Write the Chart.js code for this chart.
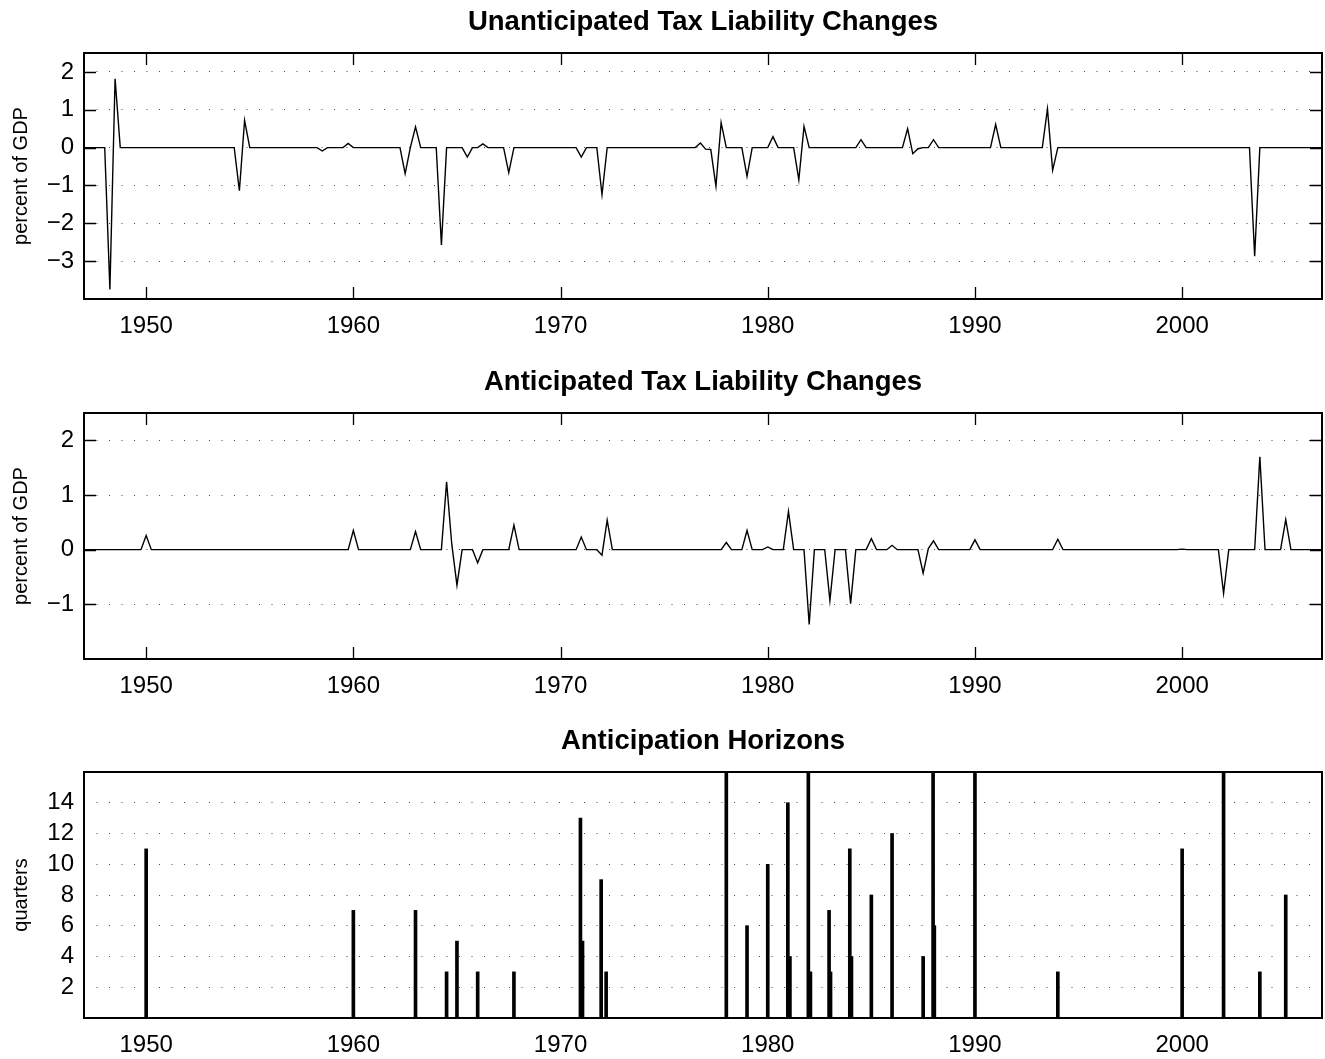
<!DOCTYPE html>
<html>
<head>
<meta charset="utf-8">
<title>Tax Liability Changes</title>
<script src="https://cdn.jsdelivr.net/npm/chart.js@4.4.1/dist/chart.umd.min.js"></script>
<style>
  html, body { margin:0; padding:0; background:#fff; }
  body { width:1325px; height:1059px; position:relative; overflow:hidden; }
  .panel { position:absolute; left:0; width:1325px; height:360px; }
</style>
</head>
<body>
<div class="panel" style="top:-7px"><canvas id="c1"></canvas></div>
<div class="panel" style="top:353px"><canvas id="c2"></canvas></div>
<div class="panel" style="top:712px"><canvas id="c3"></canvas></div>
<script>
'use strict';

/* ---- data (quarters as decimal years; only the quarters where the line bends) ---- */
const unantX = [1947.0, 1948.0, 1948.25, 1948.5, 1948.75,
  1954.25, 1954.5, 1954.75, 1955.0,
  1958.25, 1958.5, 1958.75, 1959.5, 1959.75, 1960.0,
  1962.25, 1962.5, 1962.75, 1963.0, 1963.25,
  1964.0, 1964.25, 1964.5,
  1965.25, 1965.5, 1965.75, 1966.0, 1966.25, 1966.5,
  1967.25, 1967.5, 1967.75,
  1970.75, 1971.0, 1971.25, 1971.75, 1972.0, 1972.25,
  1976.5, 1976.75, 1977.0, 1977.25, 1977.5, 1977.75, 1978.0,
  1978.75, 1979.0, 1979.25,
  1980.0, 1980.25, 1980.5,
  1981.25, 1981.5, 1981.75, 1982.0,
  1984.25, 1984.5, 1984.75,
  1986.5, 1986.75, 1987.0, 1987.25, 1987.5, 1987.75, 1988.0, 1988.25,
  1990.75, 1991.0, 1991.25,
  1993.25, 1993.5, 1993.75, 1994.0,
  2003.25, 2003.5, 2003.75, 2006.75];
const unantY = [0, 0, -3.75, 1.82, 0,
  0, -1.14, 0.72, 0,
  0, -0.09, 0, 0, 0.11, 0,
  0, -0.69, 0, 0.55, 0,
  0, -2.57, 0,
  0, -0.25, 0, 0, 0.1, 0,
  0, -0.66, 0,
  0, -0.25, 0, 0, -1.24, 0,
  0, 0.12, -0.04, -0.05, -1.02, 0.66, 0,
  0, -0.76, 0,
  0, 0.29, 0,
  0, -0.85, 0.56, 0,
  0, 0.21, 0,
  0, 0.5, -0.16, -0.03, 0, 0, 0.21, 0,
  0, 0.61, 0,
  0, 1.02, -0.6, 0,
  0, -2.87, 0, 0];

const antX = [1947.0, 1949.75, 1950.0, 1950.25,
  1959.75, 1960.0, 1960.25,
  1962.75, 1963.0, 1963.25,
  1964.25, 1964.5, 1964.75, 1965.0, 1965.25, 1965.75, 1966.0, 1966.25,
  1967.5, 1967.75, 1968.0,
  1970.75, 1971.0, 1971.25, 1971.75, 1972.0, 1972.25, 1972.5,
  1977.75, 1978.0, 1978.25, 1978.75, 1979.0, 1979.25,
  1979.75, 1980.0, 1980.25, 1980.75, 1981.0, 1981.25,
  1981.75, 1982.0, 1982.25, 1982.75, 1983.0, 1983.25,
  1983.75, 1984.0, 1984.25, 1984.75, 1985.0, 1985.25,
  1985.75, 1986.0, 1986.25,
  1987.25, 1987.5, 1987.75, 1988.0, 1988.25,
  1989.75, 1990.0, 1990.25,
  1993.75, 1994.0, 1994.25,
  1999.75, 2000.0, 2000.25,
  2001.75, 2002.0, 2002.25,
  2003.5, 2003.75, 2004.0, 2004.75, 2005.0, 2005.25, 2006.75];
const antY = [0, 0, 0.26, 0,
  0, 0.35, 0,
  0, 0.33, 0,
  0, 1.24, 0.1, -0.65, 0, 0, -0.24, 0,
  0, 0.45, 0,
  0, 0.23, 0, 0, -0.1, 0.54, 0,
  0, 0.13, 0, 0, 0.35, 0,
  0, 0.05, 0, 0, 0.7, 0,
  0, -1.37, 0, 0, -0.93, 0,
  0, -0.99, 0, 0, 0.2, 0,
  0, 0.08, 0,
  0, -0.43, 0.02, 0.16, 0,
  0, 0.18, 0,
  0, 0.19, 0,
  0, 0.01, 0,
  0, -0.8, 0,
  0, 1.7, 0, 0, 0.55, 0, 0];

// anticipation horizon in quarters (values above 16 run off the top of the axes)
const horizonX = [1950.0, 1960.0, 1963.0, 1964.5, 1965.0, 1966.0, 1967.75,
  1970.96, 1971.06, 1971.96, 1972.2,
  1978.0, 1979.0, 1980.0, 1980.97, 1981.07, 1981.96, 1982.06,
  1982.96, 1983.03, 1983.96, 1984.04, 1985.0, 1986.0,
  1987.5, 1987.98, 1988.04, 1990.0,
  1994.0, 2000.0, 2002.0, 2003.75, 2005.0];
const horizonY = [11, 7, 7, 3, 5, 3, 3,
  13, 5, 9, 3,
  20, 6, 10, 14, 4, 20, 3,
  7, 3, 11, 4, 8, 12,
  4, 20, 6, 20,
  3, 11, 20, 3, 8];

const yearTicks = [1950, 1960, 1970, 1980, 1990, 2000];
const unantTicks = [-3, -2, -1, 0, 1, 2];
const antTicks = [-1, 0, 1, 2];
const horizonTicks = [2, 4, 6, 8, 10, 12, 14];

/* ---- helpers ---- */
const FONT = "'Liberation Sans', Arial, Helvetica, sans-serif";
Chart.defaults.font.family = FONT;
Chart.defaults.color = '#000';
const pts = (xs, ys) => xs.map((x, i) => ({ x, y: ys[i] }));
const minus = (v) => v < 0 ? '\u2212' + Math.abs(v) : String(v);

/* box round the axes + inward tick marks, like the old matlab look */
const frame = {
  id: 'frame',
  afterDatasetsDraw(chart, args, opts) {
    const { ctx, chartArea: a, scales } = chart;
    ctx.save();
    ctx.strokeStyle = '#000';
    const L = opts.tickLen || 0;
    if (L) {
      ctx.lineWidth = 1.3;
      ctx.beginPath();
      for (const t of scales.x.ticks) {
        const px = Math.round(scales.x.getPixelForValue(t.value)) + 0.5;
        ctx.moveTo(px, a.bottom); ctx.lineTo(px, a.bottom - L);
        ctx.moveTo(px, a.top); ctx.lineTo(px, a.top + L);
      }
      for (const t of scales.y.ticks) {
        const py = Math.round(scales.y.getPixelForValue(t.value)) + 0.5;
        ctx.moveTo(a.left, py); ctx.lineTo(a.left + L, py);
        ctx.moveTo(a.right, py); ctx.lineTo(a.right - L, py);
      }
      ctx.stroke();
    }
    ctx.lineWidth = 2;
    ctx.strokeRect(a.left, a.top, a.right - a.left, a.bottom - a.top);
    ctx.restore();
  }
};

function panel(id, title, yTitle, yMin, yMax, yTicks, dataset, tickLen) {
  return new Chart(document.getElementById(id), {
    type: dataset.type,
    data: { datasets: [dataset] },
    options: {
      responsive: true, maintainAspectRatio: false, animation: false,
      events: [],
      layout: { padding: { top: 12.5, right: 3, left: 0, bottom: 0 } },
      plugins: {
        legend: { display: false },
        tooltip: { enabled: false },
        title: { display: true, text: title, fullSize: false, color: '#000',
                 font: { size: 27.5, weight: 'bold', lineHeight: 1.2 },
                 padding: { top: 0, bottom: 14.5 } },
        frame: { tickLen }
      },
      scales: {
        x: {
          type: 'linear', min: 1947, max: 2006.75, offset: false,
          afterBuildTicks: (s) => { s.ticks = yearTicks.map(v => ({ value: v })); },
          afterFit: (s) => { s.height = 54; },
          grid: { display: false }, border: { display: false },
          ticks: { color: '#000', font: { size: 24 }, padding: 5, maxRotation: 0,
                   callback: (v) => String(v) }
        },
        y: {
          min: yMin, max: yMax,
          afterBuildTicks: (s) => { s.ticks = yTicks.map(v => ({ value: v })); },
          afterFit: (s) => { s.width = 84; },
          grid: { color: 'rgba(0,0,0,0.7)', lineWidth: 1, drawTicks: false },
          border: { display: false, dash: [1, 11.5] },
          ticks: { color: '#000', font: { size: 24 }, padding: 10, callback: minus },
          title: { display: true, text: yTitle, color: '#000',
                   font: { size: 20 }, padding: { top: 9, bottom: 0 } }
        }
      }
    },
    plugins: [frame]
  });
}

panel('c1', 'Unanticipated Tax Liability Changes', 'percent of GDP', -4, 2.5, unantTicks,
  { type: 'line', data: pts(unantX, unantY), borderColor: '#000', borderWidth: 1.4,
    pointRadius: 0, tension: 0, fill: false }, 12);

panel('c2', 'Anticipated Tax Liability Changes', 'percent of GDP', -2, 2.5, antTicks,
  { type: 'line', data: pts(antX, antY), borderColor: '#000', borderWidth: 1.4,
    pointRadius: 0, tension: 0, fill: false }, 12);

panel('c3', 'Anticipation Horizons', 'quarters', 0, 16, horizonTicks,
  { type: 'bar', data: pts(horizonX, horizonY), backgroundColor: '#000',
    barThickness: 3, grouped: false, borderWidth: 0 }, 0);
</script>
</body>
</html>
